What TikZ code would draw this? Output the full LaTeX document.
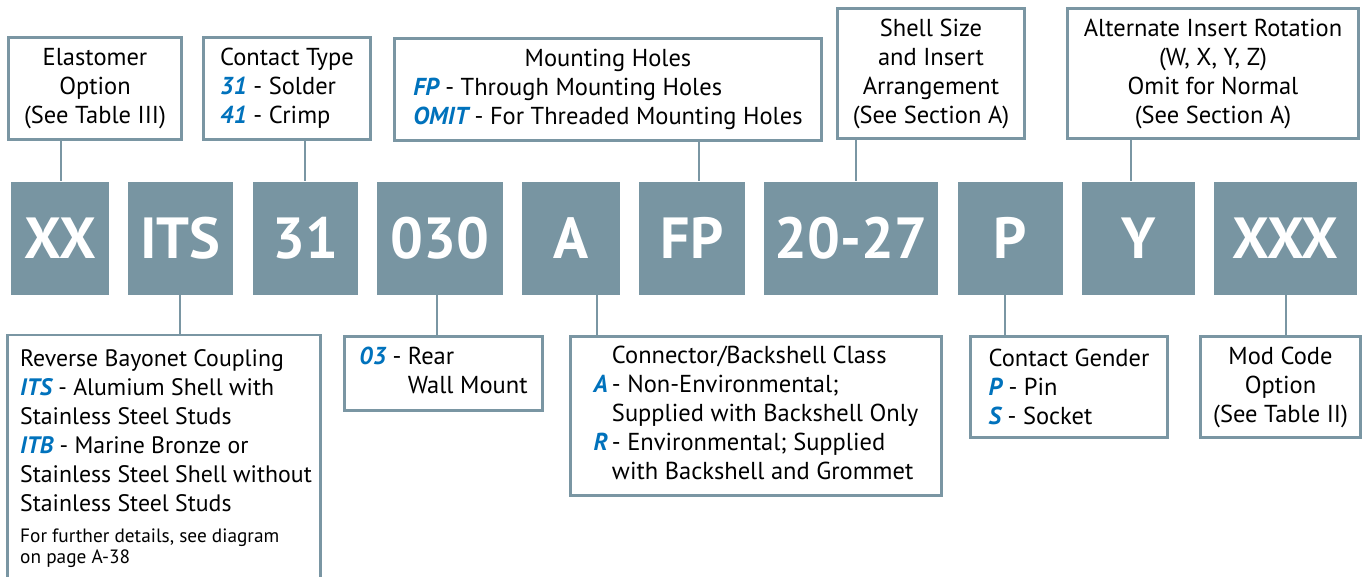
\documentclass[tikz,border=0pt]{standalone}
\usepackage{fontspec}
\setmainfont{PT Sans}
\usepackage{xcolor}
\definecolor{boxgray}{RGB}{120,149,162}
\definecolor{linegray}{RGB}{122,150,163}
\definecolor{codeblue}{RGB}{0,114,188}
\newcommand{\cd}[1]{\textcolor{codeblue}{\bfseries\itshape #1}}
\begin{document}
\begin{tikzpicture}[x=1pt,y=-1pt,
  codebox/.style={fill=boxgray, draw=none, inner sep=0pt, minimum height=113pt,
    text=white, font=\fontsize{58}{58}\bfseries\selectfont},
  infobox/.style={draw=linegray, line width=2.6pt, fill=white, inner sep=0pt,
    font=\fontsize{24.5}{29}\selectfont, align=center},
  conn/.style={draw=linegray, line width=2.6pt}
]
\useasboundingbox (0,0) rectangle (1364,576);
% code boxes
\node[codebox, minimum width=98pt]  (xx)   at (60,238)   {XX};
\node[codebox, minimum width=105pt] (its)  at (180.5,238) {ITS};
\node[codebox, minimum width=105pt] (c31)  at (305.5,238) {31};
\node[codebox, minimum width=126pt] (c030) at (440,238)  {030};
\node[codebox, minimum width=98pt]  (ca)   at (571,238)  {A};
\node[codebox, minimum width=106pt] (fp)   at (692,238)  {FP};
\node[codebox, minimum width=174pt] (c2027) at (851,238) {20-27};
\node[codebox, minimum width=105pt] (cp)   at (1010,238) {P};
\node[codebox, minimum width=113pt] (cy)   at (1138.5,238) {Y};
\node[codebox, minimum width=143pt] (cxxx) at (1285.5,238) {XXX};
% top boxes
\node[infobox, minimum width=173pt, minimum height=102pt] (elast) at (95,88.5)
  {Elastomer\\Option\\(See Table III)};
\node[infobox, minimum width=167pt, minimum height=102pt, align=left] (ctype) at (287,88.5)
  {Contact Type\\\cd{31} - Solder\\\cd{41} - Crimp};
\node[infobox, minimum width=427pt, minimum height=102pt] (mount) at (608,89.5)
  {\begin{tabular}{@{}l@{}}\multicolumn{1}{@{}c@{}}{Mounting Holes}\\
   \cd{FP} - Through Mounting Holes\\\cd{OMIT} - For Threaded Mounting Holes\end{tabular}};
\node[infobox, minimum width=187pt, minimum height=130pt] (shell) at (931,73.5)
  {Shell Size\\and Insert\\Arrangement\\(See Section A)};
\node[infobox, minimum width=291pt, minimum height=130pt] (alt) at (1213,73.5)
  {Alternate Insert Rotation\\(W, X, Y, Z)\\Omit for Normal\\(See Section A)};
% bottom boxes
\node[infobox, minimum width=313pt, minimum height=285pt] (rev) at (164,477.5) {};
\node[anchor=north west, inner sep=0pt, align=left, font=\fontsize{23.8}{29}\selectfont] (revtext) at (20,349)
  {Reverse Bayonet Coupling\\\cd{ITS} - Alumium Shell with\\Stainless Steel Studs\\
   \cd{ITB} - Marine Bronze or\\Stainless Steel Shell without\\Stainless Steel Studs};
\node[anchor=north west, inner sep=0pt, align=left, font=\fontsize{19.3}{21}\selectfont] (revnote) at (20,529)
  {For further details, see diagram\\on page A-38};
\node[infobox, minimum width=198pt, minimum height=74pt] (rear) at (443.5,373.5)
  {\begin{tabular}{@{}r@{}l@{}}\cd{03} -\kern0.26em&Rear\\ &Wall Mount\end{tabular}};
\node[infobox, minimum width=371pt, minimum height=159pt] (cls) at (756,416)
  {\begin{tabular}{@{}r@{}l@{}} &Connector/Backshell Class\\
   \cd{A}\,&- Non-Environmental;\\ &Supplied with Backshell Only\\
   \cd{R}\,&- Environmental; Supplied\\ &with Backshell and Grommet\end{tabular}};
\node[infobox, minimum width=197pt, minimum height=101pt, align=left] (gender) at (1069,387)
  {Contact Gender\\\cd{P} - Pin\\\cd{S} - Socket};
\node[infobox, minimum width=160pt, minimum height=101pt] (mod) at (1280.5,387)
  {Mod Code\\Option\\(See Table II)};
% connector x positions
\coordinate (k1) at (61,0);
\coordinate (k2) at (305,0);
\coordinate (k3) at (699,0);
\coordinate (k4) at (856,0);
\coordinate (k5) at (1131,0);
\coordinate (k6) at (180,0);
\coordinate (k7) at (437,0);
\coordinate (k8) at (597,0);
\coordinate (k9) at (1005,0);
\coordinate (k10) at (1286,0);
\draw[conn] (elast.south -| k1) -- (xx.north -| k1);
\draw[conn] (ctype.south -| k2) -- (c31.north -| k2);
\draw[conn] (mount.south -| k3) -- (fp.north -| k3);
\draw[conn] (shell.south -| k4) -- (c2027.north -| k4);
\draw[conn] (alt.south -| k5) -- (cy.north -| k5);
\draw[conn] (its.south -| k6) -- (rev.north -| k6);
\draw[conn] (c030.south -| k7) -- (rear.north -| k7);
\draw[conn] (ca.south -| k8) -- (cls.north -| k8);
\draw[conn] (cp.south -| k9) -- (gender.north -| k9);
\draw[conn] (cxxx.south -| k10) -- (mod.north -| k10);
\end{tikzpicture}
\end{document}
